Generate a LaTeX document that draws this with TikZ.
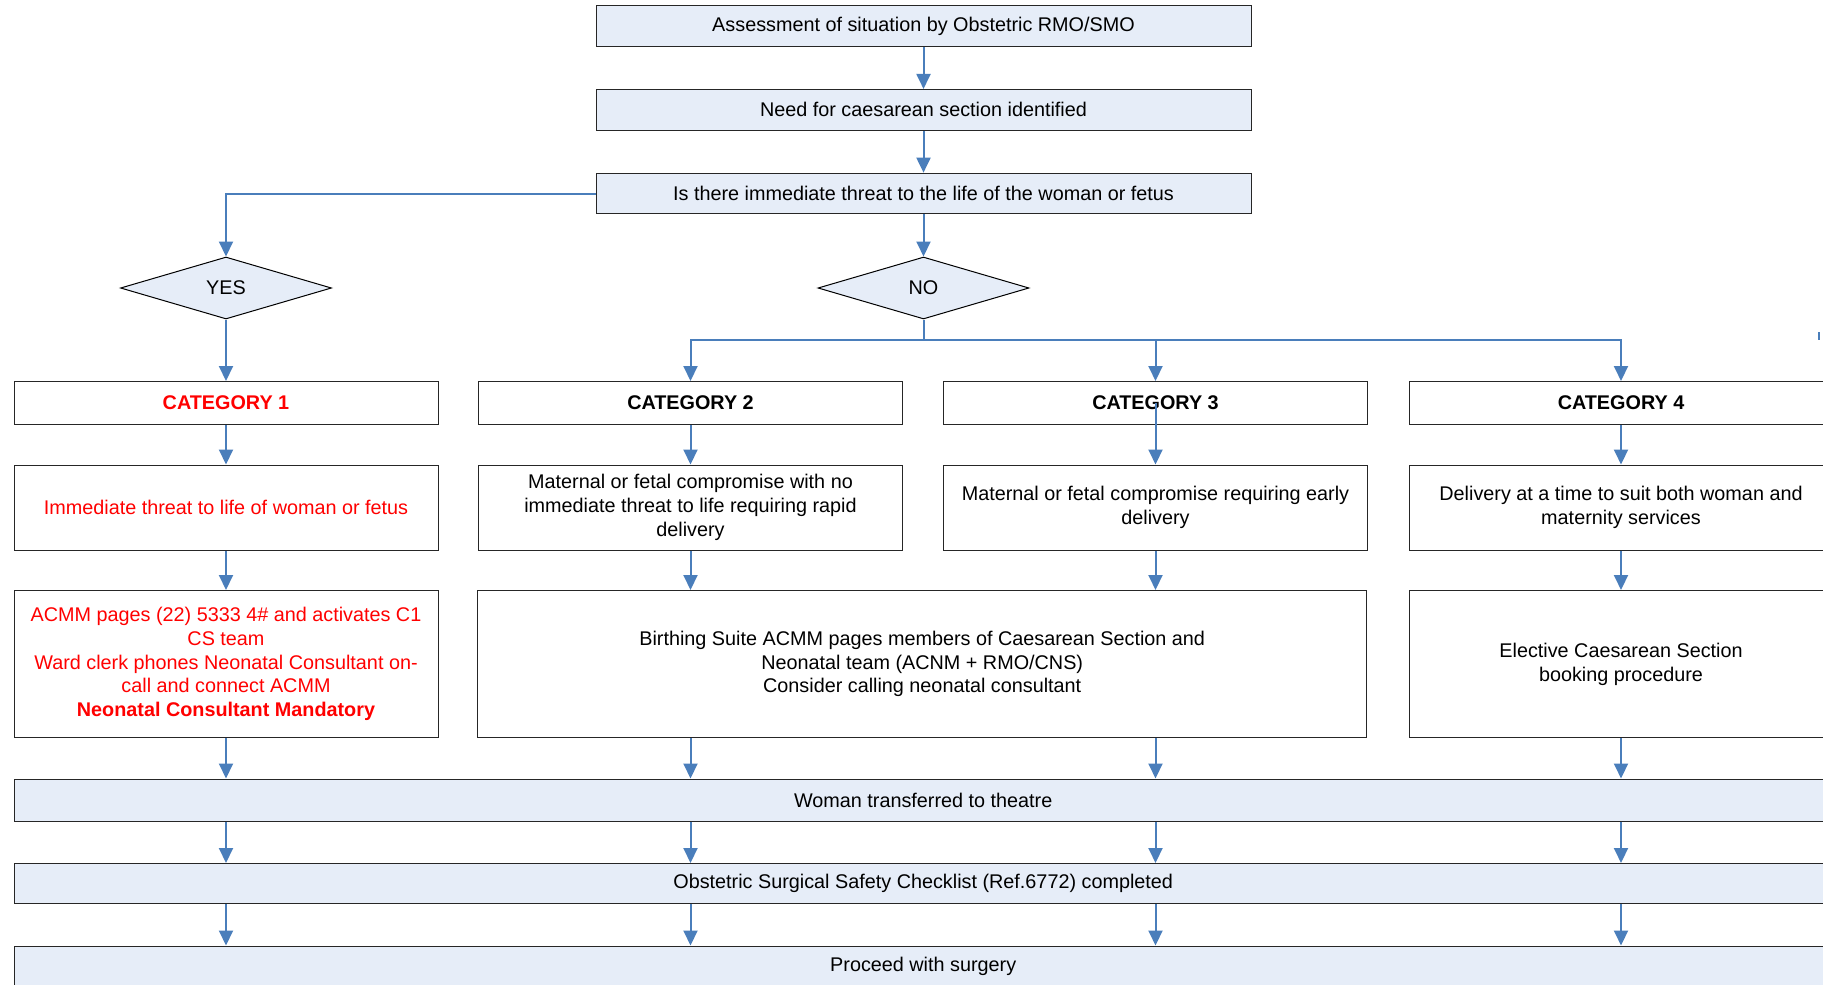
\documentclass[tikz,border=0pt]{standalone}
\usepackage{fontspec}
\setmainfont{Liberation Sans}
\usetikzlibrary{arrows.meta,shapes.geometric}
\definecolor{boxfill}{RGB}{230,237,248}
\definecolor{arrblue}{RGB}{74,126,187}
\definecolor{txtred}{RGB}{255,0,0}
\begin{document}
\begin{tikzpicture}[x=1pt,y=-1pt,
  box/.style={draw=black!85, line width=1pt, rectangle, inner sep=0pt, align=center,
    font=\fontsize{19.8}{23.8}\selectfont},
  fbox/.style={box, fill=boxfill},
  catbox/.style={box, minimum width=424pt, minimum height=43pt, font=\fontsize{19.8}{23.8}\selectfont\bfseries},
  midbox/.style={box, minimum width=424pt, minimum height=85pt},
  topbox/.style={fbox, minimum width=655pt, minimum height=40.7pt},
  widebox/.style={fbox, minimum width=1818pt},
  decis/.style={diamond, draw=black, line width=1pt, fill=boxfill, inner sep=0pt,
    minimum width=211pt, minimum height=62pt, font=\fontsize{19.8}{23.8}\selectfont},
  conn/.style={draw=arrblue, line width=2pt},
  arr/.style={conn, -{Triangle[length=15pt,width=14pt]}},
  red/.style={text=txtred}]
\useasboundingbox (0,0) rectangle (1823,985);
\clip (0,0) rectangle (1823,985);

% top chain
\node[topbox] (a1) at (923.5,26.2) {Assessment of situation by Obstetric RMO/SMO};
\node[topbox] (a2) at (923.5,109.8) {Need for caesarean section identified};
\node[topbox] (a3) at (923.5,193.5) {Is there immediate threat to the life of the woman or fetus};

\node[decis] (yes) at (226,288) {YES};
\node[decis] (no) at (923.5,288) {NO};

% categories
\node[catbox, red] (c1) at (226,403) {CATEGORY 1};
\node[catbox] (c2) at (690.5,403) {CATEGORY 2};
\node[catbox] (c3) at (1155.5,403) {CATEGORY 3};
\node[catbox] (c4) at (1621,403) {CATEGORY 4};

% second row
\node[midbox, red] (d1) at (226,507.5) {Immediate threat to life of woman or fetus};
\node[midbox] (d2) at (690.5,507.5) {Maternal or fetal compromise with no\\immediate threat to life requiring rapid\\delivery};
\node[midbox] (d3) at (1155.5,507.5) {Maternal or fetal compromise requiring early\\delivery};
\node[midbox] (d4) at (1621,507.5) {Delivery at a time to suit both woman and\\maternity services};

% third row
\node[box, red, minimum width=424pt, minimum height=147pt] (e1) at (226,664)
  {ACMM pages (22) 5333 4\# and activates C1\\CS team\\Ward clerk phones Neonatal Consultant on-\\call and connect ACMM\\\textbf{Neonatal Consultant Mandatory}};
\node[box, minimum width=888.5pt, minimum height=147pt] (e23) at (922.2,664)
  {Birthing Suite ACMM pages members of Caesarean Section and\\Neonatal team (ACNM + RMO/CNS)\\Consider calling neonatal consultant};
\node[box, minimum width=424pt, minimum height=147pt] (e4) at (1621,664)
  {Elective Caesarean Section\\booking procedure};

% bottom wide boxes
\node[widebox, minimum height=42pt] (w1) at (923.2,800) {Woman transferred to theatre};
\node[widebox, minimum height=40pt] (w2) at (923.2,883.5) {Obstetric Surgical Safety Checklist (Ref.6772) completed};
\node[widebox, minimum height=41pt] (w3) at (923.2,966.5) {Proceed with surgery};

% connectors
\draw[arr] (a1) -- (a2);
\draw[arr] (a2) -- (a3);
\draw[arr] (a3.west) -| (yes.north);
\draw[arr] (a3.south) -- (no.north);
\draw[arr] (yes.south) -- (c1.north);

\coordinate (br) at (923.5,340);
\draw[conn] (no.south) -- (br);
\draw[arr] (br) -| (c2.north);
\draw[arr] (br) -| (c4.north);
\draw[arr] (c3 |- br) -- (c3.north);

\draw[arr] (c1) -- (d1);
\draw[arr] (c2) -- (d2);
\draw[arr] (c3.center) -- (d3.north);
\draw[arr] (c4) -- (d4);

\draw[arr] (d1) -- (e1);
\draw[arr] (d2.south) -- (c2 |- e23.north);
\draw[arr] (d3.south) -- (c3 |- e23.north);
\draw[arr] (d4) -- (e4);

\draw[arr] (e1.south) -- (c1 |- w1.north);
\draw[arr] (c2 |- e23.south) -- (c2 |- w1.north);
\draw[arr] (c3 |- e23.south) -- (c3 |- w1.north);
\draw[arr] (e4.south) -- (c4 |- w1.north);

\foreach \c in {c1,c2,c3,c4}{
  \draw[arr] (\c |- w1.south) -- (\c |- w2.north);
  \draw[arr] (\c |- w2.south) -- (\c |- w3.north);
}

% stray tick at right edge
\coordinate (t1) at (1819,332);
\coordinate (t2) at (1819,340);
\draw[conn] (t1) -- (t2);
\end{tikzpicture}
\end{document}
